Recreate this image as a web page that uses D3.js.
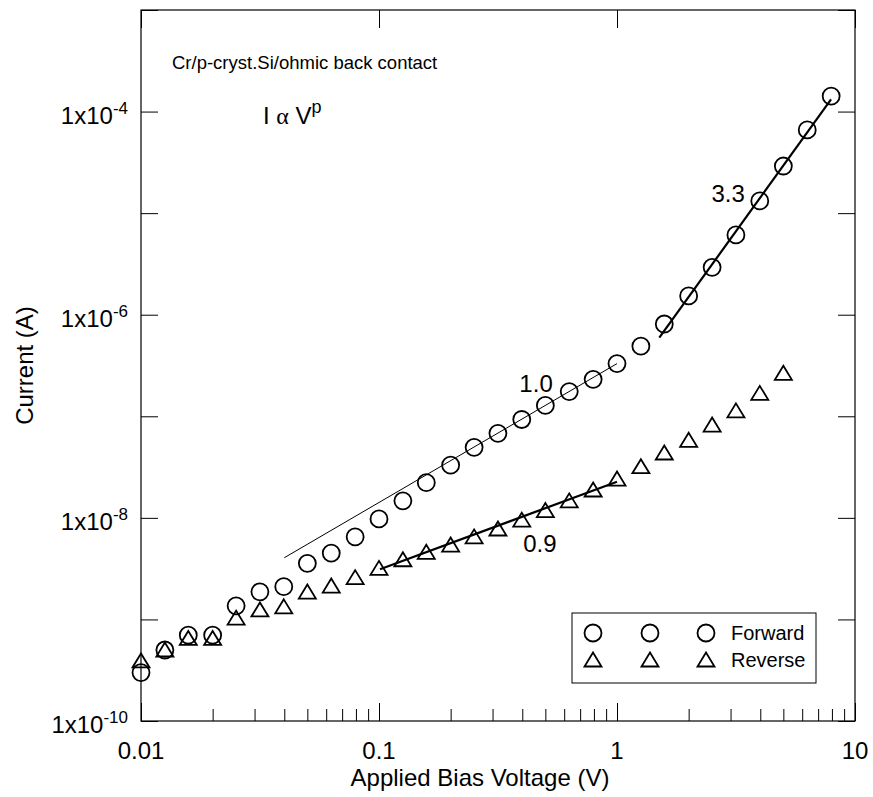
<!DOCTYPE html>
<html>
<head>
<meta charset="utf-8">
<script src="https://cdn.jsdelivr.net/npm/d3@7"></script>
<style>
  html, body { margin: 0; padding: 0; background: #fff; }
  svg { display: block; }
  text { font-family: "Liberation Sans", Arial, Helvetica, sans-serif; fill: #000; }
</style>
</head>
<body>
<svg id="chart" width="873" height="797"></svg>
<script>
// ---------------- data ----------------
const voltage = [0.01, 0.0126, 0.0158, 0.02, 0.0251, 0.0316, 0.0398, 0.05, 0.063, 0.0794,
                 0.1, 0.126, 0.158, 0.2, 0.251, 0.316, 0.398, 0.5, 0.63, 0.794,
                 1.0, 1.26, 1.58, 2.0, 2.51, 3.16, 3.98, 5.0, 6.3, 7.94];
const forwardCurrent = [3.0e-10, 5.0e-10, 7.0e-10, 7.0e-10, 1.36e-9, 1.87e-9, 2.1e-9, 3.57e-9, 4.5e-9, 6.5e-9,
                        9.75e-9, 1.47e-8, 2.22e-8, 3.3e-8, 4.95e-8, 6.8e-8, 9.3e-8, 1.28e-7, 1.75e-7, 2.31e-7,
                        3.3e-7, 4.9e-7, 8.1e-7, 1.53e-6, 2.93e-6, 6.1e-6, 1.32e-5, 2.91e-5, 6.6e-5, 1.42e-4];
const reverseCurrent = [3.9e-10, 5.0e-10, 6.5e-10, 6.5e-10, 1.03e-9, 1.24e-9, 1.33e-9, 1.86e-9, 2.13e-9, 2.58e-9,
                        3.18e-9, 3.87e-9, 4.58e-9, 5.4e-9, 6.5e-9, 7.77e-9, 9.5e-9, 1.18e-8, 1.47e-8, 1.88e-8,
                        2.41e-8, 3.19e-8, 4.35e-8, 5.8e-8, 8.2e-8, 1.13e-7, 1.68e-7, 2.65e-7];
// power-law fit segments [V, I]
const fitSlope10 = [[0.04, 4.05e-9], [1.0, 3.3e-7]];
const fitSlope33 = [[1.506, 5.95e-7], [7.93, 1.32e-4]];
const fitSlope09 = [[0.101, 3.12e-9], [1.0, 2.27e-8]];
const fitLabels = [
  { text: "1.0", v: 0.457, i: 1.73e-7 },
  { text: "3.3", v: 2.93, i: 1.29e-5 },
  { text: "0.9", v: 0.474, i: 4.61e-9 }
];
const xMajorTicks = [0.01, 0.1, 1, 10];
const xTickLabels = ["0.01", "0.1", "1", "10"];
const yDecadeTicks = [1e-10, 1e-9, 1e-8, 1e-7, 1e-6, 1e-5, 1e-4, 1e-3];
const yLabelExponents = [-10, -8, -6, -4];
const legendItems = ["Forward", "Reverse"];

// ---------------- setup ----------------
const svg = d3.select("#chart");
const L = 141, R = 855, T = 10, B = 721;
const x = d3.scaleLog().domain([0.01, 10]).range([L, R]);
const y = d3.scaleLog().domain([1e-10, 1e-3]).range([B, T]);

const xMinor = [];
[0.01, 0.1, 1].forEach(d => { for (let k = 2; k <= 9; k++) xMinor.push(d * k); });

function styleAxis(g) {
  g.select(".domain").remove();
  g.selectAll("line").attr("stroke", "#000").attr("stroke-width", 1);
  g.selectAll("text").remove();
}

// bottom axis (inward ticks)
svg.append("g").attr("transform", `translate(0,${B})`)
  .call(d3.axisBottom(x).tickValues(xMajorTicks).tickSize(-18).tickSizeOuter(0)).call(styleAxis);
svg.append("g").attr("transform", `translate(0,${B})`)
  .call(d3.axisBottom(x).tickValues(xMinor).tickSize(-12).tickSizeOuter(0)).call(styleAxis);
// top axis
svg.append("g").attr("transform", `translate(0,${T})`)
  .call(d3.axisTop(x).tickValues(xMajorTicks).tickSize(-18).tickSizeOuter(0)).call(styleAxis);
// left axis
svg.append("g").attr("transform", `translate(${L},0)`)
  .call(d3.axisLeft(y).tickValues(yDecadeTicks).tickSize(-17).tickSizeOuter(0)).call(styleAxis);
// right axis
svg.append("g").attr("transform", `translate(${R},0)`)
  .call(d3.axisRight(y).tickValues(yDecadeTicks).tickSize(-17).tickSizeOuter(0)).call(styleAxis);

// frame
svg.append("rect").attr("x", L).attr("y", T).attr("width", R - L).attr("height", B - T)
  .attr("fill", "none").attr("stroke", "#000").attr("stroke-width", 1.2);

// x tick labels
svg.append("g").selectAll("text").data(xMajorTicks).join("text")
  .attr("x", d => x(d)).attr("y", 759)
  .attr("text-anchor", "middle").attr("font-size", 24)
  .text((d, i) => xTickLabels[i]);

// y tick labels with superscripts
const yl = svg.append("g").selectAll("text").data(yLabelExponents).join("text")
  .attr("x", 128).attr("y", d => y(Math.pow(10, d)) + 12)
  .attr("text-anchor", "end").attr("font-size", 24);
yl.append("tspan").text("1x10");
yl.append("tspan").attr("dy", -10).attr("font-size", 17).text(d => String(d));

// axis titles
svg.append("text").attr("x", 480).attr("y", 786).attr("text-anchor", "middle")
  .attr("font-size", 24).text("Applied Bias Voltage (V)");
svg.append("text").attr("transform", `translate(33,${(T + B) / 2}) rotate(-90)`)
  .attr("text-anchor", "middle").attr("font-size", 24).text("Current (A)");

// fit lines
const line = d3.line().x(d => x(d[0])).y(d => y(d[1]));
svg.append("path").attr("d", line(fitSlope10)).attr("fill", "none").attr("stroke", "#000").attr("stroke-width", 1);
svg.append("path").attr("d", line(fitSlope33)).attr("fill", "none").attr("stroke", "#000").attr("stroke-width", 2.2);
svg.append("path").attr("d", line(fitSlope09)).attr("fill", "none").attr("stroke", "#000").attr("stroke-width", 2.2);

// markers
const triPath = "M0,-7.5L8.5,6.5L-8.5,6.5Z";
const fwd = voltage.map((v, i) => ({ v, i: forwardCurrent[i] }));
const rev = reverseCurrent.map((c, i) => ({ v: voltage[i], i: c }));

svg.append("g").selectAll("circle").data(fwd).join("circle")
  .attr("cx", d => x(d.v)).attr("cy", d => y(d.i)).attr("r", 8.5)
  .attr("fill", "none").attr("stroke", "#000").attr("stroke-width", 1.8);
svg.append("g").selectAll("path").data(rev).join("path")
  .attr("transform", d => `translate(${x(d.v)},${y(d.i)})`).attr("d", triPath)
  .attr("fill", "none").attr("stroke", "#000").attr("stroke-width", 1.8).attr("stroke-linejoin", "miter");

// fit labels
svg.append("g").selectAll("text").data(fitLabels).join("text")
  .attr("x", d => x(d.v)).attr("y", d => y(d.i))
  .attr("text-anchor", "middle").attr("font-size", 24).text(d => d.text);

// annotations
svg.append("text").attr("x", 172).attr("y", 69).attr("font-size", 18.5)
  .text("Cr/p-cryst.Si/ohmic back contact");
const law = svg.append("text").attr("x", 263).attr("y", 124).attr("font-size", 24);
law.append("tspan").text("I ");
law.append("tspan").attr("font-family", "'Liberation Serif', 'DejaVu Serif', serif").text("α");
law.append("tspan").text(" V");
law.append("tspan").attr("dy", -11).attr("font-size", 18).text("p");

// legend
const lg = svg.append("g");
lg.append("rect").attr("x", 572).attr("y", 613).attr("width", 244).attr("height", 70)
  .attr("fill", "#fff").attr("stroke", "#000").attr("stroke-width", 1);
const legendCols = [593, 650, 706];
legendItems.forEach((name, r) => {
  const cy = 633 + r * 27;
  legendCols.forEach(cx => {
    if (r === 0) {
      lg.append("circle").attr("cx", cx).attr("cy", cy).attr("r", 8.5)
        .attr("fill", "none").attr("stroke", "#000").attr("stroke-width", 1.8);
    } else {
      lg.append("path").attr("transform", `translate(${cx},${cy})`).attr("d", triPath)
        .attr("fill", "none").attr("stroke", "#000").attr("stroke-width", 1.8);
    }
  });
  lg.append("text").attr("x", 731).attr("y", cy + 7).attr("font-size", 20).text(name);
});
</script>
</body>
</html>
